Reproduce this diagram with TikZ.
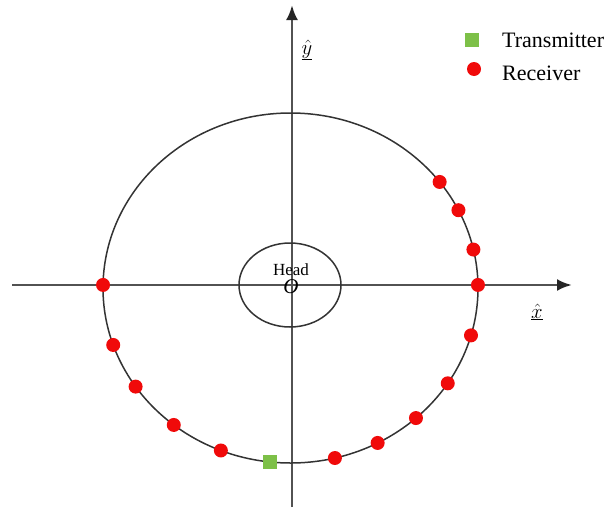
\documentclass[tikz,border=0pt]{standalone}
\usepackage{fontspec}
\setmainfont{Liberation Serif}
\usetikzlibrary{arrows.meta}
\definecolor{txgreen}{RGB}{125,192,72}
\definecolor{rxred}{RGB}{240,10,10}
\begin{document}
\begin{tikzpicture}[x=1pt,y=-1pt,
  axis/.style={draw=black!68,line width=2.8pt,-{Latex[length=15pt,width=12pt,color=black!85]}},
  ring/.style={draw=black!80,line width=1.5pt},
  rx/.style={circle,fill=rxred,inner sep=0pt,minimum size=14pt},
  tx/.style={rectangle,fill=txgreen,inner sep=0pt,minimum size=14pt},
  lbl/.style={font=\fontsize{22}{24}\selectfont,inner sep=0pt,anchor=base west}]
\useasboundingbox (0,0) rectangle (616,509);
% axes
\coordinate (xs) at (12,285);
\coordinate (xe) at (572,285);
\coordinate (ys) at (292,507);
\coordinate (ye) at (292,5);
\draw[axis] (xs) -- (xe);
\draw[axis] (ys) -- (ye);
% outer circle and head
\coordinate (c) at (290.5,288);
\draw[ring] (c) ellipse [x radius=187.5, y radius=175];
\draw[ring] (290,285) ellipse [x radius=51, y radius=42];
\node[font=\fontsize{17}{18}\selectfont,inner sep=0pt,anchor=base] (head) at (291,275) {Head};
\node[font=\fontsize{21}{22}\selectfont\itshape,inner sep=0pt,anchor=base] (o) at (291,293) {O};
% axis labels
\node[font=\fontsize{20}{22}\selectfont,inner sep=0pt] (ylab) at (307,50) {$\underline{\hat{y}}$};
\node[font=\fontsize{20}{22}\selectfont,inner sep=0pt] (xlab) at (537,312) {$\underline{\hat{x}}$};
% receivers
\foreach \t [count=\i] in {37.3,26.4,12.7,1,-15.7,-33.0,-48.0,-62.3,-76.3,-111.8,-128.5,-145.7,-161.0,179}
  \node[rx] (r\i) at ({290.5+187.5*cos(\t)},{288-175*sin(\t)}) {};
% transmitter
\node[tx] (t1) at ({290.5+187.5*cos(-96.2)},{288-175*sin(-96.2)}) {};
% legend
\node[tx] (lt) at (472,40) {};
\node[rx] (lr) at (474,69) {};
\node[lbl] (ltt) at (502,47) {Transmitter};
\node[lbl] (lrt) at (502,80) {Receiver};
\end{tikzpicture}
\end{document}
